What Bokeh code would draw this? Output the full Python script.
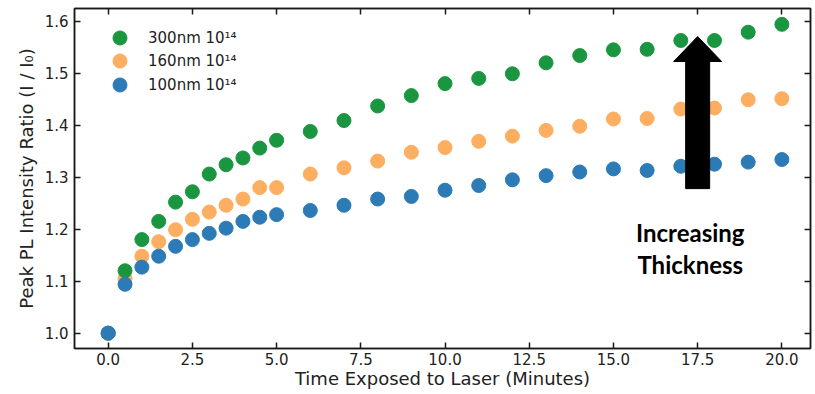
from bokeh.plotting import figure
from bokeh.models import (LinearAxis, FixedTicker, NumeralTickFormatter, Legend, LegendItem)
from bokeh.core.properties import value
from bokeh.embed import file_html
from bokeh.resources import INLINE

# ---- data ----
time_min = [0, 0.5, 1, 1.5, 2, 2.5, 3, 3.5, 4, 4.5, 5,
            6, 7, 8, 9, 10, 11, 12, 13, 14, 15, 16, 17, 18, 19, 20]
ratio_300nm = [1.0, 1.12, 1.18, 1.215, 1.252, 1.272, 1.306, 1.324, 1.337, 1.356, 1.371,
               1.388, 1.409, 1.437, 1.457, 1.480, 1.490, 1.499, 1.520, 1.534, 1.545,
               1.546, 1.563, 1.563, 1.579, 1.594]
ratio_160nm = [1.0, 1.105, 1.148, 1.176, 1.199, 1.219, 1.233, 1.246, 1.258, 1.280, 1.280,
               1.306, 1.318, 1.331, 1.348, 1.357, 1.369, 1.379, 1.390, 1.398, 1.412,
               1.413, 1.431, 1.433, 1.449, 1.451]
ratio_100nm = [1.0, 1.094, 1.127, 1.148, 1.167, 1.180, 1.192, 1.202, 1.215, 1.223, 1.228,
               1.236, 1.246, 1.258, 1.263, 1.275, 1.284, 1.295, 1.303, 1.310, 1.316,
               1.313, 1.321, 1.325, 1.329, 1.334]
series_labels = ["300nm 10\u00b9\u2074", "160nm 10\u00b9\u2074", "100nm 10\u00b9\u2074"]
x_ticks = [0, 2.5, 5, 7.5, 10, 12.5, 15, 17.5, 20]
y_ticks = [1.0, 1.1, 1.2, 1.3, 1.4, 1.5, 1.6]

# annotation arrow (data units)
arrow_x = 17.5
arrow_y_start = 1.278
arrow_head_base = 1.5225
arrow_y_tip = 1.5706
arrow_head_half = 0.713
annot_lines = ["Increasing", "Thickness"]
annot_x = 17.28
annot_y = [1.193, 1.132]

GREEN = "#1a9641"
ORANGE = "#fdae61"
BLUE = "#2c7bb6"
INK = "#1a1a1a"

p = figure(width=815, height=394, x_range=(-1.0, 20.85), y_range=(0.9705, 1.6245),
           output_backend="svg", toolbar_location=None,
           min_border_left=74, min_border_right=5, min_border_top=8, min_border_bottom=46)
p.xgrid.visible = False
p.ygrid.visible = False
p.outline_line_color = INK
p.outline_line_width = 1.5

r_or = p.scatter(time_min, ratio_160nm, size=14, fill_color=ORANGE, line_color=ORANGE)
r_gr = p.scatter(time_min, ratio_300nm, size=14, fill_color=GREEN, line_color=GREEN)
r_bl = p.scatter(time_min, ratio_100nm, size=14, fill_color=BLUE, line_color=BLUE)

# arrow
p.rect(x=[arrow_x], y=[(arrow_y_start + arrow_head_base) / 2], width=24, width_units="screen",
       height=[arrow_head_base - arrow_y_start], fill_color="black", line_color="black")
p.patch([arrow_x - arrow_head_half, arrow_x, arrow_x + arrow_head_half],
        [arrow_head_base, arrow_y_tip, arrow_head_base], fill_color="black", line_color="black")

p.text(x=[annot_x] * 2, y=annot_y, text=annot_lines, text_font=value("Lato"),
       text_font_style="bold", text_font_size="24px", text_align="center",
       text_baseline="middle", text_color="black")

# axes
for ax in (p.xaxis[0], p.yaxis[0]):
    ax.major_tick_in = 6
    ax.major_tick_out = 0
    ax.minor_tick_line_color = None
    ax.axis_line_color = INK
    ax.axis_line_width = 1.5
    ax.major_tick_line_width = 1.5
    ax.major_tick_line_color = INK
    ax.major_label_text_font = "DejaVu Sans"
    ax.major_label_text_font_size = "15px"
    ax.major_label_text_color = "#222222"
    ax.axis_label_text_font = "DejaVu Sans"
    ax.axis_label_text_font_size = "18px"
    ax.axis_label_text_font_style = "normal"
    ax.axis_label_text_color = "#222222"

p.xaxis[0].ticker = FixedTicker(ticks=x_ticks)
p.xaxis[0].formatter = NumeralTickFormatter(format="0.0")
p.xaxis[0].axis_label = "Time Exposed to Laser (Minutes)"
p.xaxis[0].major_label_standoff = 4
p.xaxis[0].axis_label_standoff = 0

p.yaxis[0].ticker = FixedTicker(ticks=y_ticks)
p.yaxis[0].formatter = NumeralTickFormatter(format="0.0")
p.yaxis[0].axis_label = "Peak PL Intensity Ratio (I / I\u2080)"
p.yaxis[0].major_label_standoff = 6
p.yaxis[0].axis_label_standoff = 5

top = LinearAxis(ticker=FixedTicker(ticks=x_ticks),
                 major_label_overrides={t: "" for t in x_ticks},
                 major_tick_in=6, major_tick_out=0, minor_tick_line_color=None,
                 major_label_standoff=0, axis_line_color=INK, axis_line_width=1.5,
                 major_tick_line_width=1.5, major_tick_line_color=INK)
right = LinearAxis(ticker=FixedTicker(ticks=y_ticks),
                   major_label_overrides={t: "" for t in y_ticks},
                   major_tick_in=6, major_tick_out=0, minor_tick_line_color=None,
                   major_label_standoff=0, axis_line_color=INK, axis_line_width=1.5,
                   major_tick_line_width=1.5, major_tick_line_color=INK)
p.add_layout(top, "above")
p.add_layout(right, "right")

# legend: one single-item legend per row so rows can sit closer than the glyph box
renderers = [r_gr, r_or, r_bl]
row_step = 23.5
for i, (lab, rend) in enumerate(zip(series_labels, renderers)):
    lg = Legend(items=[LegendItem(label=lab, renderers=[rend])],
                location=(28, int(round(293 - i * row_step))),
                glyph_height=35, glyph_width=35, label_standoff=11,
                margin=0, padding=0, border_line_alpha=0, background_fill_alpha=0,
                label_text_font="DejaVu Sans", label_text_font_size="15px",
                label_text_color="#222222", label_height=20)
    p.add_layout(lg)

open("out.html", "w").write(file_html(p, INLINE))
